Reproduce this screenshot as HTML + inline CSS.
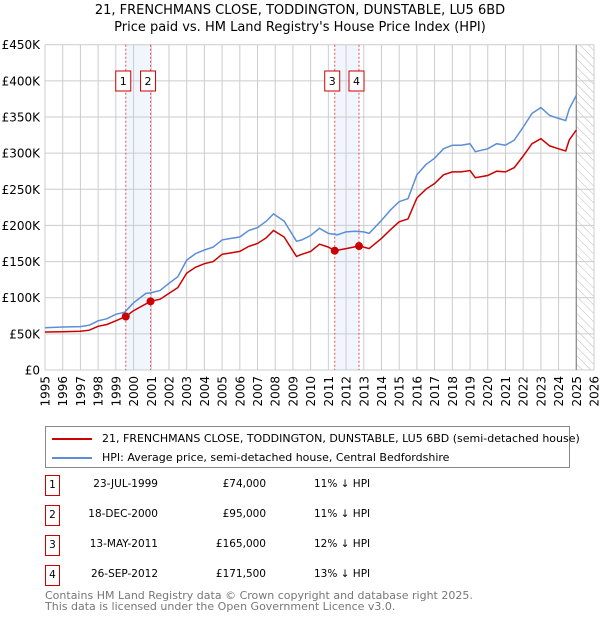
<!DOCTYPE html>
<html><head><meta charset="utf-8"><style>
body{margin:0;background:#fff;font-family:"Liberation Sans","DejaVu Sans",sans-serif;}
#wrap{position:relative;width:600px;height:620px;overflow:hidden;}
</style></head><body>
<div id="wrap">
<svg id="chart" width="600" height="620" style="position:absolute;left:0;top:0">
<defs>
<pattern id="hatch" width="6" height="6" patternUnits="userSpaceOnUse" patternTransform="rotate(-45)">
<line x1="0" y1="0" x2="0" y2="6" stroke="#bbb" stroke-width="1"/>
</pattern>
</defs>
<text x="300" y="14" text-anchor="middle" font-size="13" fill="#000" font-family="DejaVu Sans,sans-serif">21, FRENCHMANS CLOSE, TODDINGTON, DUNSTABLE, LU5 6BD</text>
<text x="300" y="31" text-anchor="middle" font-size="13" fill="#000" font-family="DejaVu Sans,sans-serif">Price paid vs. HM Land Registry's House Price Index (HPI)</text>
<g id="grid"></g><g id="marks"></g><g id="axes"></g>
</svg>

<div style="position:absolute;left:45px;top:426px;width:523px;height:40px;border:1px solid #888;font-family:'DejaVu Sans',sans-serif;font-size:11px;">
<div style="position:absolute;left:6px;top:5px;white-space:nowrap"><span style="display:inline-block;width:40px;height:2px;background:#cc0000;vertical-align:middle;margin-right:10px"></span>21, FRENCHMANS CLOSE, TODDINGTON, DUNSTABLE, LU5 6BD (semi-detached house)</div>
<div style="position:absolute;left:6px;top:24px;white-space:nowrap"><span style="display:inline-block;width:40px;height:2px;background:#5b8ed6;vertical-align:middle;margin-right:10px"></span>HPI: Average price, semi-detached house, Central Bedfordshire</div>
</div>

<div id="table" style="font-family:'DejaVu Sans',sans-serif;font-size:10.5px;"></div>

<div style="position:absolute;left:45px;top:590px;font-family:'DejaVu Sans',sans-serif;font-size:11px;color:#777;line-height:11px">Contains HM Land Registry data © Crown copyright and database right 2025.<br>This data is licensed under the Open Government Licence v3.0.</div>
</div>
<script>
const hpiYears=[1995,1996,1997,1997.5,1998,1998.5,1999,1999.5,2000,2000.7,2001,2001.5,2002,2002.5,2003,2003.5,2004,2004.5,2005,2005.5,2006,2006.5,2007,2007.5,2007.9,2008.5,2009.2,2009.5,2010,2010.5,2011,2011.5,2012,2012.5,2013,2013.3,2014,2014.5,2015,2015.5,2016,2016.5,2017,2017.5,2018,2018.5,2019,2019.3,2020,2020.5,2021,2021.5,2022,2022.5,2023,2023.5,2024,2024.4,2024.6,2025];
const hpiValues=[58.5,59.5,60,62,68,71,77,80,93,106,107,110,120,129,152,161,166,170,180,182,184,193,197,206,216,206,178,180,186,196,189,187,191,192,191,189,207,221,233,237,270,284,293,306,311,311,313,302,306,313,311,318,336,355,363,352,348,345,361,380];
const propYears=[1995,1996,1997,1997.5,1998,1998.5,1999,1999.56,2000,2000.96,2001.5,2002,2002.5,2003,2003.5,2004,2004.5,2005,2005.5,2006,2006.5,2007,2007.5,2007.9,2008.5,2009.2,2009.5,2010,2010.5,2011,2011.36,2012,2012.73,2013,2013.3,2014,2014.5,2015,2015.5,2016,2016.5,2017,2017.5,2018,2018.5,2019,2019.3,2020,2020.5,2021,2021.5,2022,2022.5,2023,2023.5,2024,2024.4,2024.6,2025];
const propValues=[52.5,53,53.5,55,60.5,63,68,74,82,95,98,106,114,134,142,147,150,160,162,164,171,175,183,193,184,157,160,164,174,170,165,168,171.5,170,168,182,194,205,209,238,250,258,270,274,274,276,266,269,275,274,280,296,313,320,310,306,303,318,332];
const saleLabels=["1","2","3","4"];
const saleYears=[1999.56,2000.96,2011.36,2012.73];
const saleValues=[74,95,165,171.5];
const saleDates=["23-JUL-1999","18-DEC-2000","13-MAY-2011","26-SEP-2012"];
const salePrices=["£74,000","£95,000","£165,000","£171,500"];
const saleDiffs=["11% ↓ HPI","11% ↓ HPI","12% ↓ HPI","13% ↓ HPI"];
const yTicks=[0,50,100,150,200,250,300,350,400,450];
const yTickLabels=["£0","£50K","£100K","£150K","£200K","£250K","£300K","£350K","£400K","£450K"];
const xTicks=[1995,1996,1997,1998,1999,2000,2001,2002,2003,2004,2005,2006,2007,2008,2009,2010,2011,2012,2013,2014,2015,2016,2017,2018,2019,2020,2021,2022,2023,2024,2025,2026];

const NS="http://www.w3.org/2000/svg";
const X0=45,X1=594,Y0=370,Y1=44.7;
const xs=y=>X0+(y-1995)/(2026-1995)*(X1-X0);
const ys=v=>Y0-v/450*(Y0-Y1);
function mk(tag,attrs,parent){const e=document.createElementNS(NS,tag);for(const k in attrs)e.setAttribute(k,attrs[k]);parent.appendChild(e);return e;}
const grid=document.getElementById('grid'),marks=document.getElementById('marks'),axes=document.getElementById('axes');
for(let i=0;i<4;i+=2){
 const r=mk('rect',{x:xs(saleYears[i]),y:Y1,width:xs(saleYears[i+1])-xs(saleYears[i]),height:Y0-Y1,fill:'#eef3fc',opacity:0.8},grid);
 
 
}
const h=mk('rect',{x:xs(2025),y:Y1,width:X1-xs(2025),height:Y0-Y1,fill:'url(#hatch)'},grid);


yTicks.forEach((t,i)=>{
 const l=mk('line',{x1:X0,x2:X1,y1:ys(t),y2:ys(t),stroke:'#ccc','stroke-width':1},grid);
 
 
 const tx=mk('text',{x:40,y:ys(t)+4.5,'text-anchor':'end','font-size':12,'font-family':'DejaVu Sans,sans-serif'},axes);
 tx.textContent=yTickLabels[i];
 
 
});
xTicks.forEach(t=>{
 const l=mk('line',{x1:xs(t),x2:xs(t),y1:Y1,y2:Y0,stroke:'#ccc','stroke-width':1},grid);
 
 
 const tx=mk('text',{x:0,y:0,'text-anchor':'end','font-size':12,'font-family':'DejaVu Sans,sans-serif',transform:`translate(${xs(t)+4.5},376) rotate(-90)`},axes);
 tx.textContent=t;
 
 
});
const nl=mk('line',{x1:xs(2025),x2:xs(2025),y1:Y1,y2:Y0,stroke:'#888','stroke-width':1.2},grid);


saleYears.forEach((y,i)=>{
 const l=mk('line',{x1:xs(y),x2:xs(y),y1:Y1,y2:Y0,stroke:'#e05050','stroke-width':1,'stroke-dasharray':'2,2'},grid);
 
 
});
function path(xa,va,color,name){
 const d=xa.map((x,i)=>(i?'L':'M')+xs(x).toFixed(1)+','+ys(va[i]).toFixed(1)).join('');
 const p=mk('path',{d:d,fill:'none',stroke:color,'stroke-width':1.5},marks);
 
 
}
path(hpiYears,hpiValues,'#5b8ed6','hpi-line');
path(propYears,propValues,'#cc0000','property-price-line');
saleYears.forEach((y,i)=>{
 const c=mk('circle',{cx:xs(y),cy:ys(saleValues[i]),r:4,fill:'#cc0000'},marks);
 
 
 const g=mk('g',{},marks);
 
 
 mk('rect',{x:xs(y)-10,y:71,width:15,height:20,fill:'#fff',stroke:'#cc0000','stroke-width':1},g);
 const t=mk('text',{x:xs(y)-2.5,y:85,'text-anchor':'middle','font-size':11,'font-family':'DejaVu Sans,sans-serif'},g);
 t.textContent=saleLabels[i];
});
const tbl=document.getElementById('table');
const rowTop=[475,505,535,565];
saleLabels.forEach((lab,i)=>{
 const r=document.createElement('div');
 
 
 r.style.cssText=`position:absolute;left:0;top:${rowTop[i]}px;width:600px;height:22px;`;
 r.innerHTML=`<div style="position:absolute;left:45px;top:0;width:13px;height:19px;border:1px solid #cc0000;text-align:center;line-height:19px">${lab}</div>`+
 `<div style="position:absolute;left:78px;width:80px;top:3px;text-align:right">${saleDates[i]}</div>`+
 `<div style="position:absolute;left:180px;width:86px;top:3px;text-align:right">${salePrices[i]}</div>`+
 `<div style="position:absolute;left:314px;top:3px">${saleDiffs[i]}</div>`;
 tbl.appendChild(r);
});
</script>
</body></html>
